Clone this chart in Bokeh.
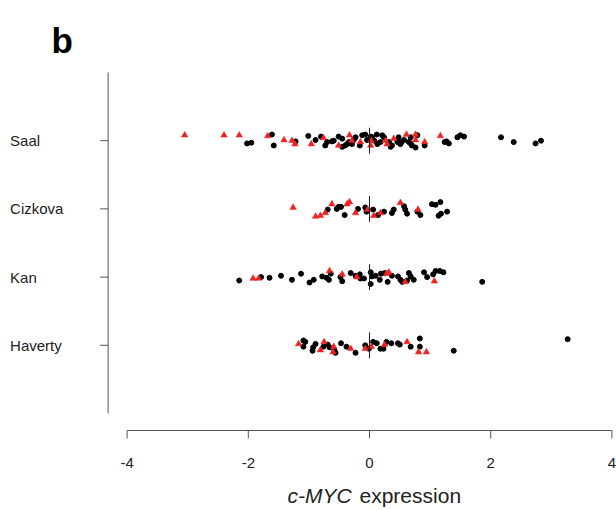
from bokeh.plotting import figure
from bokeh.models import Range1d
from bokeh.core.properties import value
from bokeh.embed import file_html
from bokeh.resources import INLINE

# ---- data (c-MYC expression values; jitter = vertical offsets) ----
groups = ["Haverty", "Kan", "Cizkova", "Saal"]
group_pos = [1, 2, 3, 4]

saal_black_x = [-2.02, -1.95, -1.61, -1.58, -1.22, -1.01, -0.89, -0.80, -0.73, -0.70, -0.62, -0.59,
                -0.51, -0.45, -0.45, -0.40, -0.34, -0.37, -0.26, -0.23, -0.29, -0.16, -0.12, -0.07,
                -0.04, 0.02, 0.04, 0.12, 0.08, 0.13, 0.18, 0.21, 0.24, 0.32, 0.35, 0.37, 0.46, 0.48,
                0.51, 0.53, 0.57, 0.65, 0.68, 0.70, 0.68, 0.79, 0.76, 0.91, 1.24, 1.27, 1.31, 1.45,
                1.50, 1.56, 2.17, 2.38, 2.74, 2.83]
saal_black_j = [-0.04, -0.03, 0.09, -0.07, -0.01, 0.07, 0.01, 0.06, -0.07, -0.02, -0.01, 0.00,
                0.06, 0.03, -0.09, -0.07, -0.02, -0.05, 0.01, 0.05, -0.05, -0.07, 0.08, 0.09,
                0.01, 0.06, 0.05, 0.09, 0.00, -0.05, -0.02, 0.08, 0.05, -0.02, -0.09, -0.07, -0.02, 0.05,
                -0.05, -0.02, 0.01, -0.02, -0.04, -0.07, 0.05, 0.08, -0.10, -0.07, -0.02, -0.01, -0.04, 0.05,
                0.08, 0.06, 0.05, -0.02, -0.04, 0.00]
saal_red_x = [-3.05, -2.40, -2.15, -1.68, -1.41, -1.28, -1.23, -0.96, -0.76, -0.51, -0.33, -0.29,
              -0.15, 0.02, 0.03, 0.26, 0.29, 0.40, 0.61, 0.76, 0.76, 0.91, 1.17]
saal_red_j = [0.08, 0.08, 0.08, 0.07, 0.01, 0.00, -0.05, -0.05, 0.04, -0.07, 0.08, 0.00,
              -0.02, -0.07, 0.00, 0.00, -0.05, 0.03, 0.09, 0.09, 0.01, -0.02, 0.07]

cizkova_black_x = [-0.69, -0.54, -0.51, -0.47, -0.41, -0.19, -0.07, -0.05, 0.06, 0.14, 0.24, 0.37,
                   0.40, 0.57, 0.59, 0.62, 0.79, 0.84, 1.03, 1.09, 1.17, 1.14, 1.18, 1.28]
cizkova_black_j = [-0.01, 0.00, 0.03, 0.03, -0.09, 0.00, 0.02, -0.04, -0.01, -0.09, -0.04, -0.06,
                   -0.01, 0.04, -0.01, -0.07, -0.04, -0.09, 0.07, 0.06, 0.10, -0.10, -0.07, -0.04]
cizkova_red_x = [-1.26, -0.89, -0.81, -0.73, -0.62, -0.37, -0.33, -0.23, -0.03, 0.07, 0.18, 0.51, 0.80]
cizkova_red_j = [0.02, -0.11, -0.10, -0.06, 0.07, 0.07, 0.10, -0.06, -0.01, -0.10, -0.06, 0.09, -0.01]

kan_black_x = [-2.15, -1.79, -1.65, -1.46, -1.28, -1.13, -0.99, -0.92, -0.78, -0.71, -0.67, -0.64,
               -0.48, -0.45, -0.31, -0.23, -0.16, -0.15, -0.09, 0.02, 0.04, 0.02, 0.10, 0.17, 0.19,
               0.25, 0.30, 0.37, 0.47, 0.51, 0.54, 0.62, 0.65, 0.68, 0.73, 0.90, 0.95, 1.05, 1.09,
               1.16, 1.22, 1.86]
kan_black_j = [-0.05, 0.00, -0.01, 0.02, -0.04, 0.05, -0.08, -0.04, 0.01, -0.01, -0.04, 0.05,
               0.00, -0.06, 0.06, 0.02, 0.04, -0.02, -0.02, 0.07, 0.01, -0.10, 0.02, -0.04, 0.05,
               0.06, -0.07, 0.02, 0.01, -0.04, -0.07, -0.05, 0.06, 0.01, -0.04, 0.07, 0.00, 0.04, 0.09,
               0.09, 0.07, -0.07]
kan_red_x = [-1.92, -1.83, -0.66, -0.45, -0.21, 0.28, 0.32, 0.59, 1.07]
kan_red_j = [-0.02, -0.02, 0.09, 0.04, 0.00, 0.05, 0.07, -0.07, -0.06]

haverty_black_x = [-1.09, -1.06, -1.09, -0.93, -0.94, -0.89, -0.76, -0.69, -0.66, -0.58, -0.56, -0.47,
                   -0.38, -0.23, -0.07, -0.01, 0.06, 0.12, 0.18, 0.23, 0.28, 0.36, 0.47, 0.50, 0.68,
                   0.83, 0.83, 1.39, 3.27]
haverty_black_j = [0.07, 0.05, -0.02, -0.03, -0.08, 0.02, -0.02, 0.01, -0.03, -0.07, -0.11, 0.03,
                   -0.02, -0.11, 0.00, -0.05, 0.05, 0.03, -0.05, -0.05, 0.05, 0.03, 0.03, 0.01, -0.02,
                   0.10, -0.02, -0.08, 0.09]
haverty_red_x = [-1.17, -0.81, -0.75, -0.59, -0.60, -0.31, -0.07, 0.03, 0.25, 0.62, 0.81, 0.94]
haverty_red_j = [0.02, -0.07, 0.05, -0.02, -0.10, -0.05, -0.05, -0.02, 0.01, 0.05, -0.10, -0.10]

x_ticks = [-4, -2, 0, 2, 4]
x_tick_labels = ["-4", "-2", "0", "2", "4"]

FONT = "Liberation Sans"
RED = "#EE2222"
AXIS = "#555555"
TXT = "#222222"

# pixel scale of the plotting area (px per data unit)
SX = 60.6
SY = 68.2
W, H = 616, 508
X0_PX, Y0_PX = 369, 413   # where x=0 / y=0 fall on the canvas

p = figure(width=W, height=H, output_backend="svg", toolbar_location=None,
           x_range=Range1d(-X0_PX / SX, (W - X0_PX) / SX),
           y_range=Range1d((Y0_PX - H) / SY, Y0_PX / SY),
           x_axis_type=None, y_axis_type=None,
           min_border=0, min_border_left=0, min_border_right=0,
           min_border_top=0, min_border_bottom=0)
p.outline_line_color = None
p.background_fill_color = "white"
p.border_fill_color = "white"

black_sets = [(haverty_black_x, haverty_black_j, 1), (kan_black_x, kan_black_j, 2),
              (cizkova_black_x, cizkova_black_j, 3), (saal_black_x, saal_black_j, 4)]
red_sets = [(haverty_red_x, haverty_red_j, 1), (kan_red_x, kan_red_j, 2),
            (cizkova_red_x, cizkova_red_j, 3), (saal_red_x, saal_red_j, 4)]

for xs, js, g in black_sets:
    p.scatter(xs, [g + j for j in js], marker="circle", size=5,
              fill_color="black", line_color="black")
for xs, js, g in red_sets:
    p.scatter(xs, [g + j for j in js], marker="triangle", size=6.5,
              fill_color=RED, line_color=RED, line_width=0.5)

# vertical reference line at 0 for each group
p.segment(x0=[0] * 4, x1=[0] * 4, y0=[g - 0.19 for g in group_pos],
          y1=[g + 0.19 for g in group_pos], line_color="#222222", line_width=1)

# ---- axes drawn R-style ----
x_axis_y = -17 / SY          # x axis line sits 17px below y=0
tick_len_y = 8 / SY
y_axis_x = -4 - 19 / SX      # y axis line sits 19px left of x=-4
tick_len_x = 8 / SX

# x axis line + ticks
p.segment(x0=[x_ticks[0]], x1=[x_ticks[-1]], y0=[x_axis_y], y1=[x_axis_y],
          line_color=AXIS, line_width=1)
p.segment(x0=x_ticks, x1=x_ticks, y0=[x_axis_y] * len(x_ticks),
          y1=[x_axis_y - tick_len_y] * len(x_ticks), line_color=AXIS, line_width=1)
p.text(x=x_ticks, y=[x_axis_y - 32 / SY] * len(x_ticks), text=x_tick_labels,
       text_font=value(FONT), text_font_size="15px", text_color=TXT,
       text_align="center", text_baseline="middle")

# y axis line + ticks
p.segment(x0=[y_axis_x], x1=[y_axis_x], y0=[0], y1=[5], line_color=AXIS, line_width=1)
p.segment(x0=[y_axis_x] * 4, x1=[y_axis_x - tick_len_x] * 4, y0=group_pos, y1=group_pos,
          line_color=AXIS, line_width=1)
p.text(x=[y_axis_x - 98 / SX] * 4, y=group_pos, text=groups,
       text_font=value(FONT), text_font_size="15px", text_color=TXT,
       text_align="left", text_baseline="middle")

# axis title: italic gene name + plain word
title_y = x_axis_y - 65 / SY
p.text(x=[-82 / SX], y=[title_y], text=["c-MYC"], text_font=value(FONT),
       text_font_size="21px", text_font_style="italic", text_color=TXT,
       text_align="left", text_baseline="middle")
p.text(x=[-10 / SX], y=[title_y], text=["expression"], text_font=value(FONT),
       text_font_size="21px", text_color=TXT, text_align="left", text_baseline="middle")

# panel letter
p.text(x=[-318 / SX], y=[373 / SY], text=["b"], text_font=value(FONT),
       text_font_size="35px", text_font_style="bold", text_color="black",
       text_align="left", text_baseline="alphabetic")

open("out.html", "w").write(file_html(p, INLINE))
